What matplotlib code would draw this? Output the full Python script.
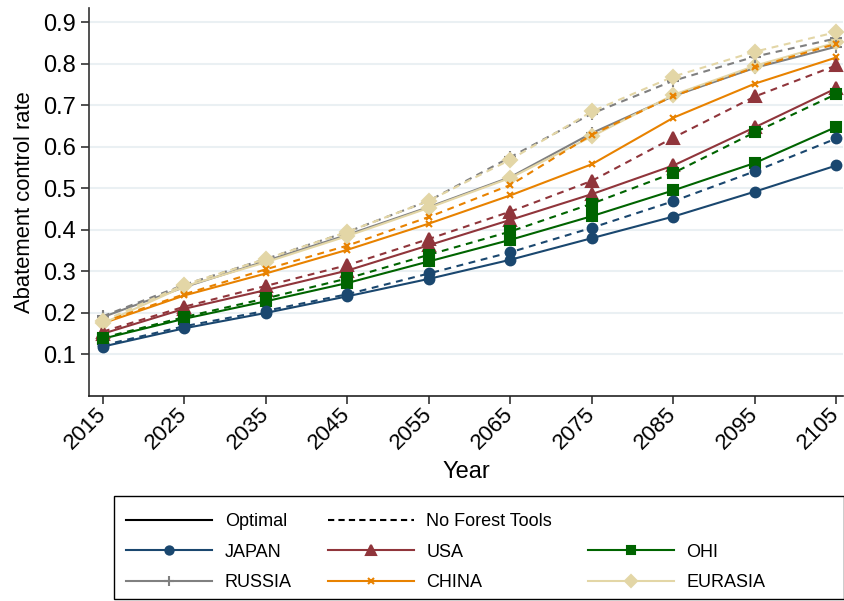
import matplotlib.pyplot as plt
from matplotlib.lines import Line2D
from matplotlib.patches import Rectangle
import numpy as np

plt.rcParams['font.family'] = ['Liberation Sans', 'DejaVu Sans']

years = [2015, 2025, 2035, 2045, 2055, 2065, 2075, 2085, 2095, 2105]

# optimal scenario
japan_opt = [0.119, 0.163, 0.200, 0.240, 0.282, 0.328, 0.380, 0.432, 0.492, 0.555]
usa_opt = [0.150, 0.210, 0.255, 0.302, 0.363, 0.424, 0.486, 0.555, 0.647, 0.741]
ohi_opt = [0.138, 0.186, 0.228, 0.272, 0.324, 0.376, 0.433, 0.495, 0.561, 0.648]
russia_opt = [0.190, 0.262, 0.325, 0.388, 0.455, 0.527, 0.633, 0.722, 0.790, 0.841]
china_opt = [0.175, 0.242, 0.295, 0.352, 0.415, 0.483, 0.558, 0.670, 0.752, 0.815]
eurasia_opt = [0.175, 0.264, 0.322, 0.385, 0.453, 0.525, 0.625, 0.725, 0.795, 0.851]

# no forest tools scenario
japan_nft = [0.122, 0.168, 0.205, 0.245, 0.295, 0.346, 0.405, 0.469, 0.541, 0.620]
usa_nft = [0.155, 0.215, 0.265, 0.315, 0.378, 0.444, 0.518, 0.622, 0.721, 0.796]
ohi_nft = [0.140, 0.190, 0.235, 0.283, 0.340, 0.396, 0.463, 0.537, 0.635, 0.727]
russia_nft = [0.192, 0.268, 0.330, 0.395, 0.470, 0.575, 0.680, 0.759, 0.817, 0.861]
china_nft = [0.178, 0.245, 0.305, 0.362, 0.431, 0.508, 0.629, 0.722, 0.791, 0.848]
eurasia_nft = [0.180, 0.268, 0.330, 0.395, 0.470, 0.569, 0.685, 0.769, 0.829, 0.876]

regions = ['JAPAN', 'USA', 'OHI', 'RUSSIA', 'CHINA', 'EURASIA']
colors = ['#1a476f', '#90353b', '#006400', '#808080', '#e88200', '#e3d6a6']
markers = ['o', '^', 's', '+', 'x', 'D']
msizes = [7, 9, 7.5, 8, 4.5, 7.5]
opt = [japan_opt, usa_opt, ohi_opt, russia_opt, china_opt, eurasia_opt]
nft = [japan_nft, usa_nft, ohi_nft, russia_nft, china_nft, eurasia_nft]

fig = plt.figure(figsize=(8.45, 6.01), dpi=100)
ax = fig.add_axes([89/845, 1 - 396/601, (843 - 89)/845, (396 - 8)/601])

for i in range(len(regions)):
    ax.plot(years, opt[i], color=colors[i], marker=markers[i], ms=msizes[i],
            lw=1.5, mew=1.5, ls='-', zorder=3)
for i in range(len(regions)):
    ax.plot(years, nft[i], color=colors[i], marker=markers[i], ms=msizes[i],
            lw=1.5, mew=1.5, ls=(0, (3.3, 2.7)), zorder=3)

ax.set_xlim(2013.3, 2105.8)
ax.set_ylim(0, 0.934)
ax.set_yticks(np.arange(0.1, 0.95, 0.1))
ax.set_yticklabels(['%.1f' % v for v in np.arange(0.1, 0.95, 0.1)], fontsize=17)
ax.set_xticks(years)
ax.set_xticklabels([str(y) for y in years], fontsize=16, rotation=45,
                   ha='right', va='center', rotation_mode='anchor')
ax.tick_params(axis='both', length=6, width=1.2, color='#333333')
ax.tick_params(axis='x', pad=5)
ax.grid(axis='y', color='#eaf0f3', lw=1.5)
ax.set_axisbelow(True)
for s in ['top', 'right']:
    ax.spines[s].set_visible(False)
ax.spines['left'].set_color('#333333')
ax.spines['left'].set_linewidth(1.2)
ax.spines['bottom'].set_color('#222222')
ax.spines['bottom'].set_linewidth(1.2)
ax.set_ylabel('Abatement control rate', fontsize=15.8, labelpad=6)
ax.set_xlabel('Year', fontsize=17, labelpad=5)

# legend frame
fig.patches.append(Rectangle((114/845, 1 - 599/601), (844 - 114)/845, (599 - 496)/601,
                             transform=fig.transFigure, fill=False,
                             edgecolor='black', lw=1))

h_opt = Line2D([], [], color='black', lw=1.5, ls='-')
h_nft = Line2D([], [], color='black', lw=1.5, ls=(0, (3, 2)))
blank = Line2D([], [], color='none')
h_reg = [Line2D([], [], color=colors[i], marker=markers[i], ms=msizes[i] * 0.85,
                lw=1.5, mew=1.5) for i in range(len(regions))]
handles = [h_opt, h_reg[0], h_reg[3], h_nft, h_reg[1], h_reg[4], blank, h_reg[2], h_reg[5]]
labels = ['Optimal', 'JAPAN', 'RUSSIA', 'No Forest Tools', 'USA', 'CHINA', '', 'OHI', 'EURASIA']
fig.legend(handles, labels, ncol=3, loc='upper left',
           bbox_to_anchor=(110/845, 1 - 497/601), frameon=False, fontsize=13,
           handlelength=4.75, handletextpad=0.7, columnspacing=2.0,
           labelspacing=0.75)

fig.savefig('out.png', dpi=100)
